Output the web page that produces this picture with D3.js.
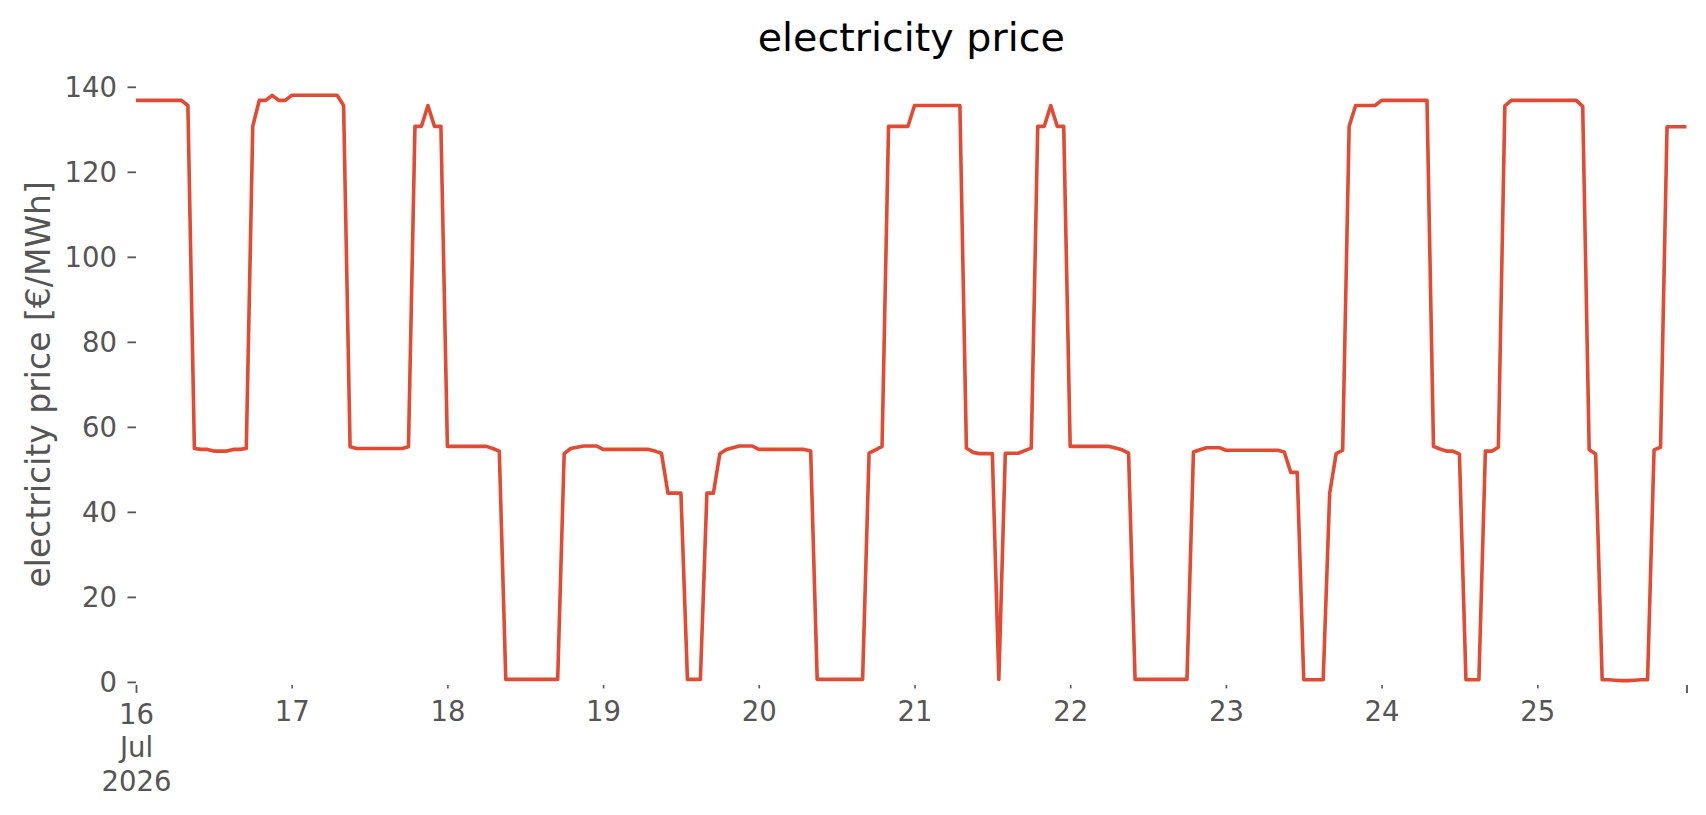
<!DOCTYPE html>
<html>
<head>
<meta charset="utf-8">
<script src="https://cdn.jsdelivr.net/npm/d3@7/dist/d3.min.js"></script>
<style>
    body { margin: 0; background: #fff; }
    text { font-family: "DejaVu Sans", sans-serif; }
</style>
</head>
<body>
<svg id="chart" width="1706" height="815"></svg>
<script>
// hourly price, first hour = 16 Jul 2026 00:00
const startDate = "2026-07-16T00:00:00Z";
const yTicks = [0, 20, 40, 60, 80, 100, 120, 140];
const dayTicks = [16, 17, 18, 19, 20, 21, 22, 23, 24, 25];
const firstLabel = ["16", "Jul", "2026"];
const prices = [
    // 16
    136.8, 136.8, 136.8, 136.8, 136.8, 136.8, 136.8, 136.8, 135.6, 54.9, 54.7, 54.7,
    54.3, 54.3, 54.3, 54.7, 54.7, 54.9, 130.7, 136.8, 136.8, 138.0, 136.8, 136.8,
    // 17
    138.0, 138.0, 138.0, 138.0, 138.0, 138.0, 138.0, 138.0, 135.6, 55.3, 54.9, 54.9,
    54.9, 54.9, 54.9, 54.9, 54.9, 54.9, 55.3, 130.7, 130.7, 135.6, 130.7, 130.7,
    // 18
    55.4, 55.4, 55.4, 55.4, 55.4, 55.4, 55.4, 54.9, 54.3, 0.6, 0.6, 0.6,
    0.6, 0.6, 0.6, 0.6, 0.6, 0.6, 53.7, 54.9, 55.2, 55.5, 55.5, 55.5,
    // 19
    54.7, 54.7, 54.7, 54.7, 54.7, 54.7, 54.7, 54.7, 54.3, 53.8, 44.4, 44.4,
    44.4, 0.6, 0.6, 0.6, 44.4, 44.4, 53.7, 54.7, 55.1, 55.5, 55.5, 55.5,
    // 20
    54.7, 54.7, 54.7, 54.7, 54.7, 54.7, 54.7, 54.7, 54.3, 0.6, 0.6, 0.6,
    0.6, 0.6, 0.6, 0.6, 0.6, 53.8, 54.6, 55.4, 130.7, 130.7, 130.7, 130.7,
    // 21
    135.6, 135.6, 135.6, 135.6, 135.6, 135.6, 135.6, 135.6, 55.0, 54.0, 53.7, 53.7,
    53.7, 0.6, 53.8, 53.8, 53.8, 54.4, 55.0, 130.7, 130.7, 135.6, 130.7, 130.7,
    // 22
    55.4, 55.4, 55.4, 55.4, 55.4, 55.4, 55.4, 55.0, 54.6, 53.8, 0.6, 0.6,
    0.6, 0.6, 0.6, 0.6, 0.6, 0.6, 0.6, 54.1, 54.6, 55.1, 55.1, 55.1,
    // 23
    54.5, 54.5, 54.5, 54.5, 54.5, 54.5, 54.5, 54.5, 54.5, 54.1, 49.3, 49.3,
    0.5, 0.5, 0.5, 0.5, 44.4, 53.7, 54.5, 130.7, 135.6, 135.6, 135.6, 135.6,
    // 24
    136.8, 136.8, 136.8, 136.8, 136.8, 136.8, 136.8, 136.8, 55.4, 54.8, 54.3, 54.3,
    53.6, 0.5, 0.5, 0.5, 54.3, 54.3, 55.2, 135.5, 136.8, 136.8, 136.8, 136.8,
    // 25
    136.8, 136.8, 136.8, 136.8, 136.8, 136.8, 136.8, 135.4, 54.6, 53.6, 0.5, 0.5,
    0.4, 0.3, 0.3, 0.4, 0.5, 0.5, 54.6, 55.2, 130.6, 130.6, 130.6, 130.6
];

const textColor = "#555555";
const lineColor = "#E24A33";

const t0 = new Date(startDate);
const data = prices.map((v, i) => ({ date: d3.utcHour.offset(t0, i), value: v }));

const svg = d3.select("#chart");

const x = d3.scaleUtc()
    .domain(d3.extent(data, (d) => d.date))
    .range([136, 1686.5]);
const y = d3.scaleLinear()
    .domain([0, 140])
    .range([681.9, 86.8]);
const axisY = y(0) + 3;

// y axis
const gy = svg.append("g")
    .attr("transform", `translate(${x.range()[0]},0)`)
    .call(d3.axisLeft(y).tickValues(yTicks).tickSize(8.5).tickPadding(10.5));
gy.select(".domain").remove();
gy.selectAll(".tick line").attr("stroke", textColor).attr("stroke-width", 1.8);
gy.selectAll(".tick text")
    .attr("fill", textColor)
    .attr("font-size", "27.5px")
    .attr("dy", "0.36em");

// x axis: day ticks (minor), labelled with day of month
const days = dayTicks.map((d) => d3.utcDay.offset(t0, d - dayTicks[0]));
const gx = svg.append("g")
    .attr("transform", `translate(0,${axisY})`)
    .call(d3.axisBottom(x).tickValues(days).tickSizeInner(3.5).tickSizeOuter(0)
        .tickFormat(d3.utcFormat("%-d")));
gx.select(".domain").remove();
gx.selectAll(".tick line").attr("stroke", textColor).attr("stroke-width", 1.6);
gx.selectAll(".tick text")
    .attr("fill", textColor)
    .attr("font-size", "27.5px")
    .attr("y", 36)
    .attr("dy", 0);

// first tick is a major one with a three line label
const first = gx.select(".tick");
first.select("line").attr("y2", 8).attr("stroke-width", 1.8);
first.select("text").text(null)
    .selectAll("tspan")
    .data(firstLabel)
    .enter()
    .append("tspan")
    .attr("x", 0)
    .attr("y", (d, i) => 39 + i * 33.5)
    .text((d) => d);

// major tick at the right end
const gxEnd = svg.append("g")
    .attr("transform", `translate(0,${axisY})`)
    .call(d3.axisBottom(x).tickValues([x.domain()[1]]).tickSizeInner(8).tickSizeOuter(0).tickFormat(""));
gxEnd.select(".domain").remove();
gxEnd.selectAll(".tick line").attr("stroke", textColor).attr("stroke-width", 1.8);

// price line
const line = d3.line()
    .x((d) => x(d.date))
    .y((d) => y(d.value));
svg.append("path")
    .datum(data)
    .attr("fill", "none")
    .attr("stroke", lineColor)
    .attr("stroke-width", 3.6)
    .attr("stroke-linejoin", "round")
    .attr("d", line);

// labels
svg.append("text")
    .attr("x", d3.mean(x.range()))
    .attr("y", 51)
    .attr("text-anchor", "middle")
    .attr("font-size", "39.6px")
    .attr("fill", "#000")
    .text("electricity price");

svg.append("text")
    .attr("transform", `translate(50,${d3.mean(y.range())}) rotate(-90)`)
    .attr("text-anchor", "middle")
    .attr("font-size", "33px")
    .attr("fill", textColor)
    .text("electricity price [€/MWh]");
</script>
</body>
</html>
